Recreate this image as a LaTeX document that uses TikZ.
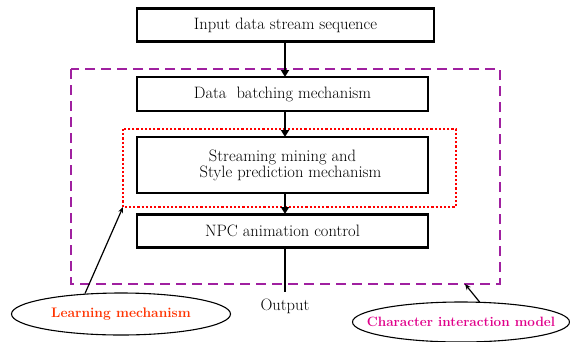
\documentclass[tikz,border=0pt]{standalone}
\usetikzlibrary{arrows.meta,shapes.geometric}
\definecolor{frame}{HTML}{A020A0}
\definecolor{learn}{HTML}{FF3300}
\definecolor{charc}{HTML}{E0008A}
\begin{document}
\begin{tikzpicture}[x=1pt,y=-1pt,
  stage/.style={draw,line width=2.8pt,minimum height=33pt,inner sep=0pt,font=\fontsize{16.5}{18}\selectfont},
  flow/.style={line width=2.6pt,-{Triangle[length=7pt,width=8pt]}},
  tag/.style={draw,ellipse,line width=1.1pt,minimum width=219pt,minimum height=42pt,inner xsep=-25pt,inner ysep=0pt,font=\bfseries\fontsize{13.8}{15}\selectfont},
  pointer/.style={line width=1.2pt,-{Stealth[length=6pt,width=5pt]}}]
\useasboundingbox (0,0) rectangle (570,341);

% processing stages
\node[stage,minimum width=297pt] (in) at (285.5,25) {Input data stream sequence};
\node[stage,minimum width=291pt,minimum height=34pt] (batch) at (282.5,94) {Data\ \ batching mechanism};
\node[stage,minimum width=291pt,minimum height=56pt,align=center] (mine) at (282.5,165)
  {Streaming mining and\\[-2pt]\hspace*{16pt}Style prediction mechanism};
\node[stage,minimum width=291pt,minimum height=33pt] (npc) at (282.5,231) {NPC animation control};
\node[font=\fontsize{16.5}{18}\selectfont] (out) at (285,306) {Output};

% surrounding frames
\draw[frame,line width=1.8pt,dash pattern=on 10pt off 6pt] (71,69) rectangle (500,284);
\coordinate (fr) at (465,284);
\draw[red,line width=2.2pt,dotted] (123,129) rectangle (456,207);
\coordinate (lr) at (123,207);

% flow arrows
\draw[flow] (285,41.5) -- (285,77);
\draw[flow] (285,111) -- (285,137);
\draw[flow] (285,193) -- (285,214);
\draw[line width=2.6pt] (285,247.5) -- (285,292);

% annotations
\node[tag,text=learn] (lm) at (121,314) {Learning mechanism};
\node[tag,text=charc,minimum width=217pt,minimum height=40pt,font=\bfseries\fontsize{13.5}{15}\selectfont] (cim) at (461,322) {Character interaction model};
\draw[pointer] (85,293.5) -- (lr);
\draw[pointer] (480,302.5) -- (fr);
\end{tikzpicture}
\end{document}
